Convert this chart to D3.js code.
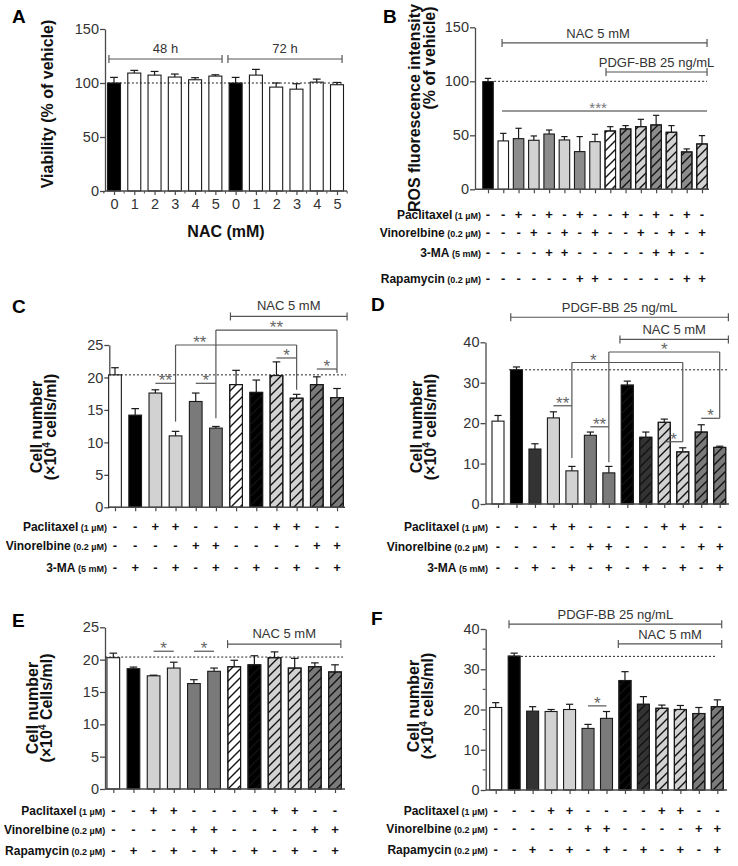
<!DOCTYPE html>
<html><head><meta charset="utf-8">
<script src="https://cdn.jsdelivr.net/npm/d3@7"></script>
<style>
body{margin:0;background:#fff;}
text{font-family:"Liberation Sans",Arial,sans-serif;}
</style></head>
<body>
<script>
// ---------------- DATA ----------------
// Panel A
const A_labels = ['0','1','2','3','4','5','0','1','2','3','4','5'];
const A_values = [100,109.2,107.3,105.5,103,106.4,100,107.3,96.2,94.3,100.8,98.4];
const A_errors = [5.2,2.5,3.4,2.8,1.9,1.2,5.2,5.3,3.8,5,2.8,2.1];
const A_kind = ['vehicle','nac','nac','nac','nac','nac','vehicle','nac','nac','nac','nac','nac'];
const A_groups = ['48 h','72 h'];
const A_yTicks = [0,50,100,150];

// Panel B
const B_values = [99.7,44.8,46.9,45.4,51.2,45.7,34.9,44.1,54,55.9,58,59.6,52.8,34.6,42];
const B_errors = [3,7,9.6,4,3.7,3.1,13.9,6.8,4,3.1,6.8,8.9,6.2,2.8,7.7];
const B_kind = ['control','vehicle','pac','vin','pac','vin','pac','vin','vehicle','pac','vin','pac','vin','pac','vin'];
const B_pdgf = [0,0,0,0,0,0,0,0,1,1,1,1,1,1,1];
const B_paclitaxel = ['-','-','+','-','+','-','+','-','-','+','-','+','-','+','-'];
const B_vinorelbine = ['-','-','-','+','-','+','-','+','-','-','+','-','+','-','+'];
const B_3ma = ['-','-','-','-','+','+','-','-','-','-','-','+','+','-','-'];
const B_rapamycin = ['-','-','-','-','-','-','+','+','-','-','-','-','-','+','+'];
const B_yTicks = [0,50,100,150];

// Panel C
const C_values = [20.4,14.2,17.6,11.0,16.3,12.2,18.9,17.7,20.3,16.8,18.9,16.9];
const C_errors = [1.1,1.0,0.5,0.7,1.3,0.25,2.2,1.9,2.1,0.6,1.2,1.4];
const C_kind = ['control','inhib','pac','pac','vin','vin','control','inhib','pac','pac','vin','vin'];
const C_nac = [0,0,0,0,0,0,1,1,1,1,1,1];
const C_paclitaxel = ['-','-','+','+','-','-','-','-','+','+','-','-'];
const C_vinorelbine = ['-','-','-','-','+','+','-','-','-','-','+','+'];
const C_3ma = ['-','+','-','+','-','+','-','+','-','+','-','+'];
const C_yTicks = [0,5,10,15,20,25];

// Panel D
const D_values = [20.5,33.2,13.6,21.3,8.2,17.0,7.7,29.4,16.5,20.2,12.9,17.8,14.0];
const D_errors = [1.4,0.7,1.3,1.5,1.1,0.8,1.6,1.0,1.3,0.8,1.0,1.8,0.3];
const D_kind = ['control','pdgf','inhib','pac','pac','vin','vin','pdgf','inhib','pac','pac','vin','vin'];
const D_nac = [0,0,0,0,0,0,0,1,1,1,1,1,1];
const D_paclitaxel = ['-','-','-','+','+','-','-','-','-','+','+','-','-'];
const D_vinorelbine = ['-','-','-','-','-','+','+','-','-','-','-','+','+'];
const D_3ma = ['-','-','+','-','+','-','+','-','+','-','+','-','+'];
const D_yTicks = [0,10,20,30,40];

// Panel E
const E_values = [20.3,18.6,17.5,18.7,16.3,18.2,18.9,19.2,20.3,18.7,18.9,18.1];
const E_errors = [0.7,0.25,0.1,0.9,0.6,0.5,1.0,1.4,0.9,1.5,0.6,1.1];
const E_kind = ['control','inhib','pac','pac','vin','vin','control','inhib','pac','pac','vin','vin'];
const E_nac = [0,0,0,0,0,0,1,1,1,1,1,1];
const E_paclitaxel = ['-','-','+','+','-','-','-','-','+','+','-','-'];
const E_vinorelbine = ['-','-','-','-','+','+','-','-','-','-','+','+'];
const E_rapamycin = ['-','+','-','+','-','+','-','+','-','+','-','+'];
const E_yTicks = [0,5,10,15,20,25];

// Panel F
const F_values = [20.5,33.3,19.6,19.5,20.0,15.3,17.8,27.2,21.3,20.3,20.0,19.0,20.7];
const F_errors = [1.2,0.7,1.1,0.5,1.3,1.0,1.7,2.2,1.9,0.8,1.0,1.5,1.7];
const F_kind = ['control','pdgf','inhib','pac','pac','vin','vin','pdgf','inhib','pac','pac','vin','vin'];
const F_nac = [0,0,0,0,0,0,0,1,1,1,1,1,1];
const F_paclitaxel = ['-','-','-','+','+','-','-','-','-','+','+','-','-'];
const F_vinorelbine = ['-','-','-','-','-','+','+','-','-','-','-','+','+'];
const F_rapamycin = ['-','-','+','-','+','-','+','-','+','-','+','-','+'];
const F_yTicks = [0,10,20,30,40];

// ---------------- STYLE ----------------
const AX = '#4a4a4a', TXT = '#333';
const fillA = {vehicle:'#000', nac:'#fff'};
const fillB = {control:'#000', vehicle:'#fff', pac:'#8c8c8c', vin:'#d2d2d2'};
const fillC = {control:'#fff', inhib:'#000', pac:'#d2d2d2', vin:'#7a7a7a'};
const fillD = {control:'#fff', pdgf:'#000', inhib:'#333', pac:'#d2d2d2', vin:'#7a7a7a'};

const svg = d3.select('body').append('svg').attr('width',738).attr('height',866);
svg.append('rect').attr('width',738).attr('height',866).attr('fill','#fff');
const defs = svg.append('defs');
const hw = 9;
defs.append('pattern').attr('id','hatch').attr('patternUnits','userSpaceOnUse')
  .attr('width',hw).attr('height',hw)
  .append('path')
  .attr('d',`M0,${hw} L${hw},0 M${-hw/2},${hw/2} L${hw/2},${-hw/2} M${hw/2},${1.5*hw} L${1.5*hw},${hw/2}`)
  .attr('stroke','#111').attr('stroke-width',1.4);

function panel(c){
  const g = svg.append('g');
  const n = c.values.length;
  const x = d3.scalePoint().domain(d3.range(n)).range([c.firstX, c.lastX]);
  const step = x.step();
  const xt = t => x(0) + t*step;
  const y = d3.scaleLinear().domain([0, c.yMax]).range([c.y0, c.yTop]);

  // y axis
  const ya = g.append('g').attr('transform',`translate(${c.axisX},0)`)
    .call(d3.axisLeft(y).tickValues(c.yTicks).tickSize(5).tickSizeOuter(0).tickPadding(1));
  ya.select('.domain').attr('stroke',AX).attr('stroke-width',1.3);
  ya.selectAll('.tick line').attr('stroke',AX).attr('stroke-width',1.3);
  ya.selectAll('.tick text').attr('fill',TXT).attr('font-size',14.5)
    .attr('font-family','"Liberation Sans",Arial,sans-serif');
  if (c.minor){
    const mv = d3.range(0, c.yMax+0.001, c.minor).filter(v=>!c.yTicks.includes(v));
    g.selectAll(null).data(mv).join('line')
      .attr('x1',c.axisX-3).attr('x2',c.axisX).attr('y1',d=>y(d)).attr('y2',d=>y(d))
      .attr('stroke',AX).attr('stroke-width',1.1);
  }
  // x axis
  const xa = g.append('g').attr('transform',`translate(0,${c.y0})`)
    .call(d3.axisBottom(x).tickSize(4).tickPadding(4)
      .tickFormat(c.xLabels ? (i=>c.xLabels[i]) : ()=>''));
  xa.select('.domain').remove();
  xa.selectAll('.tick line').attr('stroke',AX).attr('stroke-width',1.2);
  xa.selectAll('.tick text').attr('fill',TXT).attr('font-size',14.5)
    .attr('font-family','"Liberation Sans",Arial,sans-serif');
  if (c.xMinor){
    g.selectAll(null).data(d3.range(n+1)).join('line')
      .attr('x1',i=>xt(i-0.5)).attr('x2',i=>xt(i-0.5))
      .attr('y1',c.y0).attr('y2',c.y0+2.5).attr('stroke',AX).attr('stroke-width',1);
  }

  // bars
  const bw = c.barW;
  const bars = g.append('g');
  bars.selectAll('rect.bar').data(c.values).join('rect').attr('class','bar')
    .attr('x',(d,i)=>x(i)-bw/2).attr('y',d=>y(d)).attr('width',bw).attr('height',d=>c.y0-y(d))
    .attr('fill',(d,i)=>c.fills[c.kind[i]]).attr('stroke','#1a1a1a').attr('stroke-width',1.1);
  if (c.hatch){
    bars.selectAll('rect.h').data(c.values.map((v,i)=>({v,i})).filter(o=>c.hatch[o.i])).join('rect').attr('class','h')
      .attr('x',o=>x(o.i)-bw/2).attr('y',o=>y(o.v)).attr('width',bw).attr('height',o=>c.y0-y(o.v))
      .attr('fill','url(#hatch)').attr('stroke','#1a1a1a').attr('stroke-width',1.1);
  }
  // error bars
  const eb = g.append('g').attr('stroke','#1a1a1a').attr('stroke-width',1.2);
  c.values.forEach((v,i)=>{
    const e = c.errors[i];
    eb.append('line').attr('x1',x(i)).attr('x2',x(i)).attr('y1',y(v)).attr('y2',y(v+e));
    eb.append('line').attr('x1',x(i)-bw*0.3).attr('x2',x(i)+bw*0.3).attr('y1',y(v+e)).attr('y2',y(v+e));
  });
  // axis line on top
  g.append('line').attr('x1',c.axisX).attr('x2',c.axisEnd).attr('y1',c.y0).attr('y2',c.y0)
    .attr('stroke',AX).attr('stroke-width',1.4);

  // dotted reference
  if (c.dot){
    g.append('line').attr('x1',xt(c.dot.from)).attr('x2',xt(c.dot.to))
      .attr('y1',y(c.dot.v)).attr('y2',y(c.dot.v))
      .attr('stroke','#222').attr('stroke-width',1).attr('stroke-dasharray','2,2');
  }
  // treatment brackets
  (c.brackets||[]).forEach(b=>{
    const yy = y(b.v);
    const bg = g.append('g').attr('stroke',b.color||'#555').attr('stroke-width',1.2);
    bg.append('line').attr('x1',xt(b.from)).attr('x2',xt(b.to)).attr('y1',yy).attr('y2',yy);
    if (!b.plain){
      bg.append('line').attr('x1',xt(b.from)).attr('x2',xt(b.from)).attr('y1',yy-4).attr('y2',yy+4);
      bg.append('line').attr('x1',xt(b.to)).attr('x2',xt(b.to)).attr('y1',yy-4).attr('y2',yy+4);
    }
    if (b.text){
      g.append('text').attr('x',b.textT!==undefined?xt(b.textT):(xt(b.from)+xt(b.to))/2).attr('y',yy-(b.gap||5))
        .attr('text-anchor','middle').attr('font-size',b.size||13).attr('fill',b.textColor||TXT)
        .text(b.text);
    }
  });
  // significance annotations
  (c.sig||[]).forEach(s=>{
    const yy = y(s.v);
    const sg = g.append('g').attr('stroke','#555').attr('stroke-width',1.2);
    sg.append('line').attr('x1',xt(s.from)).attr('x2',xt(s.to)).attr('y1',yy).attr('y2',yy);
    (s.drops||[]).forEach(dp=>{
      sg.append('line').attr('x1',xt(dp[0])).attr('x2',xt(dp[0])).attr('y1',yy).attr('y2',y(dp[1]));
    });
    g.append('text').attr('x',xt(s.labelT!==undefined?s.labelT:(s.from+s.to)/2)).attr('y',yy+3)
      .attr('text-anchor','middle').attr('font-size',17).attr('fill','#666').text(s.label);
  });
  // treatment rows
  (c.rows||[]).forEach((r,k)=>{
    const ry = c.rowY[k];
    const t = g.append('text').attr('x',c.firstX - c.rowGap).attr('y',ry).attr('text-anchor','end')
      .attr('font-weight','bold').attr('fill','#111');
    t.append('tspan').attr('font-size',12).text(r.name);
    t.append('tspan').attr('font-size',9).text(r.dose);
    g.selectAll(null).data(r.signs).join('text')
      .attr('x',(d,i)=>x(i)).attr('y',ry).attr('text-anchor','middle')
      .attr('font-weight','bold').attr('font-size',13).attr('fill','#111').text(d=>d);
  });
  // y label
  c.ylab.forEach(l=>{
    const t = g.append('text').attr('transform',`translate(${l.x},${l.y!==undefined?l.y:c.ylabY}) rotate(-90)`)
      .attr('text-anchor','middle').attr('font-weight','bold').attr('font-size',l.size||16).attr('fill','#111');
    if (l.sup){
      t.append('tspan').text(l.pre);
      t.append('tspan').attr('font-size',10).attr('dy',-6).text(l.sup);
      t.append('tspan').attr('dy',6).text(l.post);
    } else t.text(l.text);
  });
  // panel letter
  svg.append('text').attr('x',c.letter[1]).attr('y',c.letter[2]).attr('font-weight','bold')
    .attr('font-size',19).attr('fill','#000').text(c.letter[0]);
}

function rows(names, doses, arrs){ return names.map((nm,i)=>({name:nm, dose:doses[i], signs:arrs[i]})); }

// Panel A
panel({values:A_values, errors:A_errors, kind:A_kind, fills:fillA, xLabels:A_labels, xMinor:true,
  axisX:105, axisEnd:347, y0:191, yTop:29, yMax:150, yTicks:A_yTicks, firstX:114, lastX:337, barW:13,
  dot:{v:100, from:-0.3, to:11.3},
  brackets:[{from:-0.25,to:5.33,v:122.2,text:A_groups[0],gap:6},{from:5.62,to:11.25,v:122.2,text:A_groups[1],gap:6}],
  ylab:[{x:53,text:'Viability (% of vehicle)'}], ylabY:104,
  letter:['A',12,23]});
svg.append('text').attr('x',226).attr('y',237).attr('text-anchor','middle').attr('font-weight','bold')
  .attr('font-size',16).attr('fill','#111').text('NAC (mM)');

// Panel B
panel({values:B_values, errors:B_errors, kind:B_kind, fills:fillB, hatch:B_pdgf,
  axisX:475, axisEnd:709, y0:189.3, yTop:27.3, yMax:150, yTicks:B_yTicks, firstX:488, lastX:702, barW:10.5,
  dot:{v:100, from:0.4, to:14.33},
  brackets:[{from:0.92,to:14.33,v:135.5,text:'NAC  5 mM',textT:7.2,gap:5},
            {from:7.72,to:14.33,v:108.6,text:'PDGF-BB 25 ng/mL',gap:5},
            {from:0.92,to:14.33,v:72.5,plain:true,text:'***',textT:7.2,gap:-2,size:15,textColor:'#777',color:'#333'}],
  rows:rows(['Paclitaxel','Vinorelbine','3-MA','Rapamycin'],[' (1 µM)',' (0.2 µM)',' (5 mM)',' (0.2 µM)'],
            [B_paclitaxel,B_vinorelbine,B_3ma,B_rapamycin]),
  rowY:[219,237,257,283], rowGap:7,
  ylab:[{x:420,text:'ROS fluorescence intensity'},{x:435,y:58,text:'(% of  vehicle)'}], ylabY:108,
  letter:['B',383,23]});

// Panel C
panel({values:C_values, errors:C_errors, kind:C_kind, fills:fillC, hatch:C_nac,
  axisX:109.3, axisEnd:345, y0:507.3, yTop:345, yMax:25, yTicks:C_yTicks, firstX:115, lastX:337, barW:12.7,
  dot:{v:20.4, from:-0.3, to:11.45},
  brackets:[{from:5.72,to:11.5,v:29.4,text:'NAC 5 mM',gap:6}],
  sig:[{from:5,to:11,v:27.3,label:'**',drops:[[5,13.7],[11,20.7]]},
       {from:3,to:9,v:25.0,label:'**',labelT:4.2,drops:[[3,13.2],[9,18.1]]},
       {from:2,to:3,v:19.1,label:'**'},
       {from:4,to:5,v:19.1,label:'*'},
       {from:8,to:9,v:23.0,label:'*'},
       {from:10,to:11,v:21.3,label:'*'}],
  rows:rows(['Paclitaxel','Vinorelbine','3-MA'],[' (1 µM)',' (0.2 µM)',' (5 mM)'],[C_paclitaxel,C_vinorelbine,C_3ma]),
  rowY:[531,550,572], rowGap:8,
  ylab:[{x:42,text:'Cell number'},{x:56,sup:'4',pre:'(×10',post:' cells/ml)'}], ylabY:427,
  letter:['C',12,313]});

// Panel D
panel({values:D_values, errors:D_errors, kind:D_kind, fills:fillD, hatch:D_nac,
  axisX:485.5, axisEnd:729, y0:504, yTop:342.3, yMax:40, yTicks:D_yTicks, firstX:498, lastX:719.7, barW:12,
  dot:{v:33.2, from:0.6, to:12.5},
  brackets:[{from:0.69,to:12.47,v:46.2,text:'PDGF-BB 25 ng/mL',gap:5},
            {from:6.6,to:12.47,v:40.7,text:'NAC 5 mM',gap:5}],
  sig:[{from:6,to:12,v:37.6,label:'*',labelT:9,drops:[[6,10.3],[12,21.2]]},
       {from:4,to:10,v:35.0,label:'*',labelT:5.16,drops:[[4,11.4],[10,15.4]]},
       {from:3,to:4,v:24.3,label:'**'},
       {from:5,to:6,v:19.1,label:'**'},
       {from:9,to:10,v:15.4,label:'*'},
       {from:11,to:12,v:21.2,label:'*'}],
  rows:rows(['Paclitaxel','Vinorelbine','3-MA'],[' (1 µM)',' (0.2 µM)',' (5 mM)'],[D_paclitaxel,D_vinorelbine,D_3ma]),
  rowY:[531,551,572], rowGap:10,
  ylab:[{x:422,text:'Cell number'},{x:436,sup:'4',pre:'(×10',post:' cells/ml)'}], ylabY:427,
  letter:['D',371,311]});

// Panel E
panel({values:E_values, errors:E_errors, kind:E_kind, fills:fillC, hatch:E_nac,
  axisX:105, axisEnd:345, y0:789, yTop:627.3, yMax:25, yTicks:E_yTicks, firstX:113.3, lastX:335, barW:12.7,
  dot:{v:20.4, from:-0.4, to:11.4},
  brackets:[{from:5.67,to:11.29,v:22.4,text:'NAC 5 mM',gap:6}],
  sig:[{from:2,to:3,v:21.3,label:'*'},{from:4,to:5,v:21.3,label:'*'}],
  rows:rows(['Paclitaxel','Vinorelbine','Rapamycin'],[' (1 µM)',' (0.2 µM)',' (0.2 µM)'],[E_paclitaxel,E_vinorelbine,E_rapamycin]),
  rowY:[815,834,855], rowGap:8,
  ylab:[{x:38,text:'Cell number'},{x:52,sup:'4',pre:'(×10',post:' Cells/ml)'}], ylabY:708,
  letter:['E',12,627]});

// Panel F
panel({values:F_values, errors:F_errors, kind:F_kind, fills:fillD, hatch:F_nac, minor:5,
  axisX:485.7, axisEnd:727, y0:790, yTop:629, yMax:40, yTicks:F_yTicks, firstX:495.7, lastX:717.3, barW:12,
  dot:{v:33.2, from:0.72, to:11.95},
  brackets:[{from:0.72,to:12.24,v:41.2,text:'PDGF-BB 25 ng/mL',gap:5},
            {from:6.64,to:12.24,v:36.3,text:'NAC 5 mM',gap:5}],
  sig:[{from:5,to:6,v:20.9,label:'*'}],
  rows:rows(['Paclitaxel','Vinorelbine','Rapamycin'],[' (1 µM)',' (0.2 µM)',' (0.2 µM)'],[F_paclitaxel,F_vinorelbine,F_rapamycin]),
  rowY:[815,833,854], rowGap:8,
  ylab:[{x:419,text:'Cell number'},{x:433,sup:'4',pre:'(×10',post:' cells/ml)'}], ylabY:706,
  letter:['F',371,625]});
</script>
</body></html>
